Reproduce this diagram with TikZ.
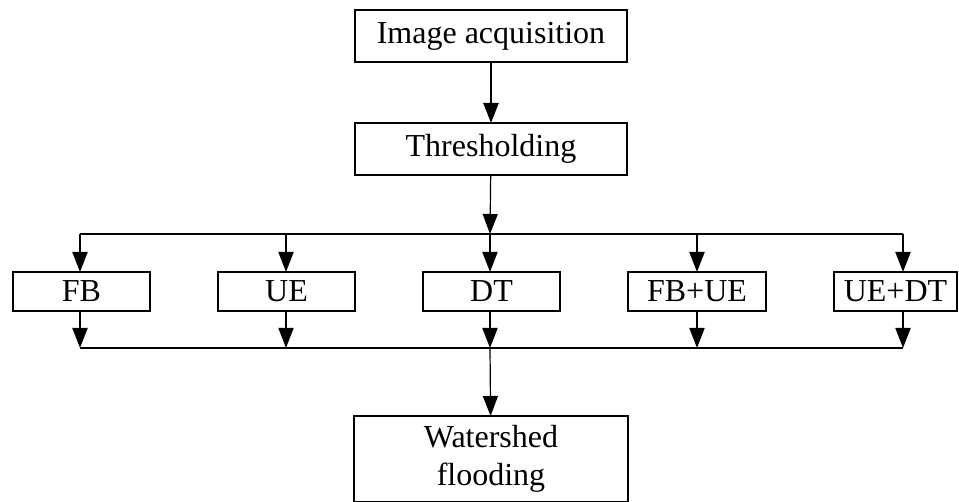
\documentclass[tikz,border=0pt]{standalone}
\usepackage{fontspec}
\setmainfont{Liberation Serif}
\usetikzlibrary{arrows.meta}
\begin{document}
\begin{tikzpicture}[x={(1pt,0pt)},y={(0pt,-1pt)},every node/.style={draw, line width=1.5pt, inner sep=0pt, outer sep=0pt, font=\fontsize{32}{38}\selectfont},>={Triangle[length=20pt,width=15pt]}]
\useasboundingbox (0,0) rectangle (959,502);
\node[minimum width=272pt, minimum height=52pt] (acq) at (491,36) {Image acquisition};
\node[minimum width=272pt, minimum height=52pt] (thr) at (491,149) {Thresholding};
\node[minimum width=137pt, minimum height=39pt] (fb) at (81.5,291.5) {FB};
\node[minimum width=137pt, minimum height=39pt] (ue) at (286.5,291.5) {UE};
\node[minimum width=137pt, minimum height=39pt] (dt) at (491.5,291.5) {DT};
\node[minimum width=138pt, minimum height=39pt] (fbue) at (697,291.5) {FB+UE};
\node[minimum width=123pt, minimum height=39pt] (uedt) at (895.5,291.5) {UE+DT};
\node[minimum width=274pt, minimum height=86pt, align=center] (ws) at (491,459) {Watershed\\flooding};
\coordinate (t1) at (80,234);
\coordinate (t2) at (286,234);
\coordinate (t3) at (490,234);
\coordinate (t4) at (697,234);
\coordinate (t5) at (903,234);
\coordinate (b1) at (80,348);
\coordinate (b2) at (286,348);
\coordinate (b3) at (490,348);
\coordinate (b4) at (697,348);
\coordinate (b5) at (903,348);
\draw[->,line width=2.5pt] (acq) -- (thr);
\draw[->,line width=1.2pt] (thr) -- (t3);
\draw[line width=1.5pt] (t1) -- (t5);
\draw[->,line width=2pt] (t1) -- (t1 |- fb.north);
\draw[->,line width=2pt] (t2) -- (t2 |- ue.north);
\draw[->,line width=2pt] (t3) -- (t3 |- dt.north);
\draw[->,line width=2pt] (t4) -- (t4 |- fbue.north);
\draw[->,line width=2pt] (t5) -- (t5 |- uedt.north);
\draw[->,line width=2pt] (b1 |- fb.south) -- (b1);
\draw[->,line width=1.5pt] (b2 |- ue.south) -- (b2);
\draw[->,line width=2pt] (b3 |- dt.south) -- (b3);
\draw[->,line width=2pt] (b4 |- fbue.south) -- (b4);
\draw[->,line width=2pt] (b5 |- uedt.south) -- (b5);
\draw[line width=1.5pt] (b1) -- (b5);
\draw[->,line width=1.2pt] (b3) -- (ws);
\end{tikzpicture}
\end{document}
